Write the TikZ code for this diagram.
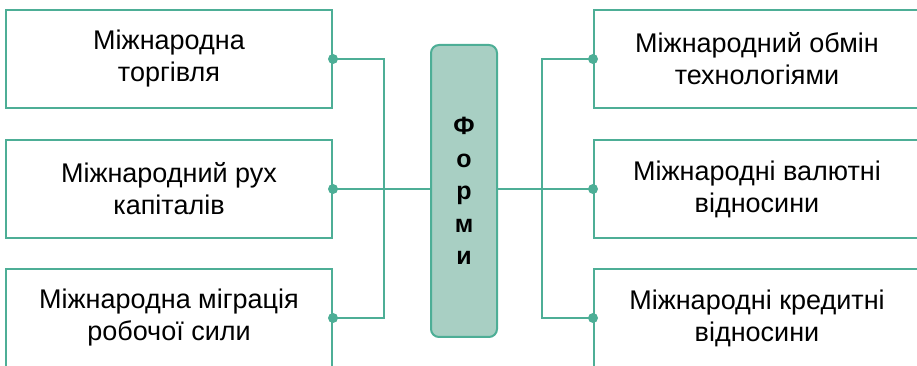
\documentclass[tikz,border=0pt]{standalone}
\usepackage{fontspec}
\setmainfont{Liberation Sans}
\usepackage{tikz}
\definecolor{formgreen}{RGB}{77,174,150}
\definecolor{formfill}{RGB}{168,207,195}

\begin{document}
\begin{tikzpicture}[x=1pt,y=1pt,
    formbox/.style={draw=formgreen, line width=2pt, minimum width=326pt,
      minimum height=98pt, align=center, inner sep=0pt,
      font=\fontsize{27}{32}\selectfont},
    wire/.style={formgreen, line width=2pt}]
        \clip (0,0) rectangle (917,366);
        \node[formbox] (torg) at (169,307) {Міжнародна\\торгівля} ;
        \node[formbox] (kapital) at (169,177) {Міжнародний рух\\капіталів} ;
        \node[formbox] (migr) at (169,48) {Міжнародна міграція\\робочої сили} ;
        \node[formbox] (tech) at (757,307) {Міжнародний обмін\\технологіями} ;
        \node[formbox] (valut) at (757,177) {Міжнародні валютні\\відносини} ;
        \node[formbox] (kredit) at (757,48) {Міжнародні кредитні\\відносини} ;
        \node[draw=formgreen, fill=formfill, line width=2pt, rounded corners=8pt,
          minimum width=66pt, minimum height=292pt, align=center, inner sep=0pt,
          font=\fontsize{25}{32.5}\selectfont\bfseries] (formy) at (464,175)
          {Ф\\о\\р\\м\\и} ;
        \coordinate (lbus) at (384,177) ;
        \coordinate (rbus) at (542,177) ;
        \draw[wire]
        (torg.east) -| (lbus) |- (migr.east)
        (kapital.east) -- (kapital.east -| formy.west)
        (valut.west -| formy.east) -- (valut.west)
        (tech.west) -| (rbus) |- (kredit.west)
        ;
        \foreach \n in {torg.east,kapital.east,migr.east,tech.west,valut.west,kredit.west}
          \fill[formgreen] (\n) circle (5pt) ;
      \end{tikzpicture}
\end{document}
